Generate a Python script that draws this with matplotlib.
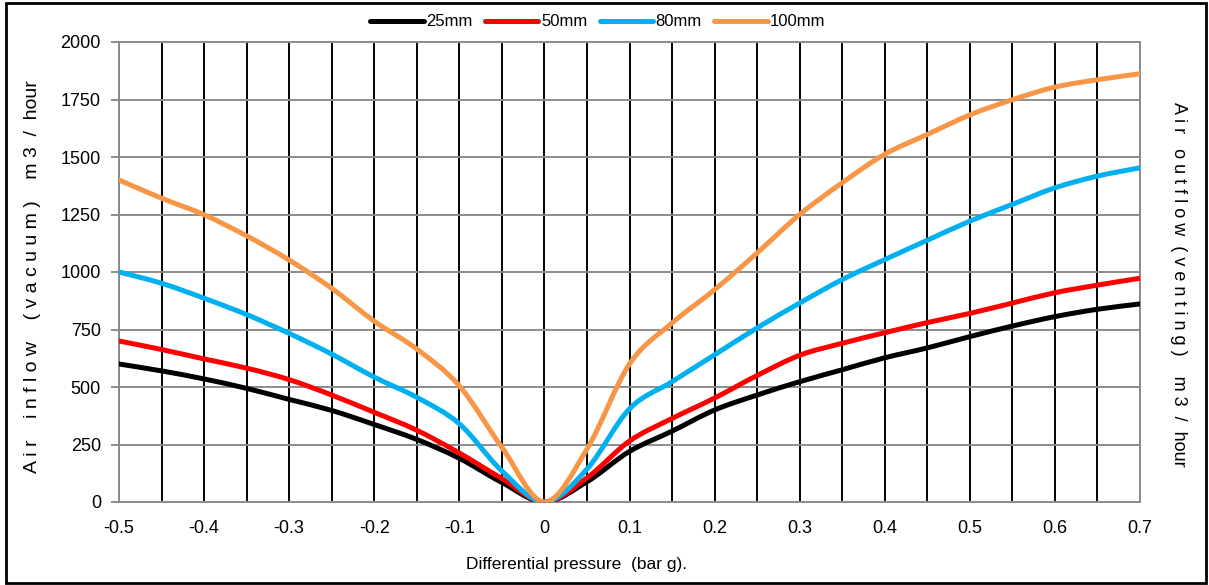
import numpy as np
import matplotlib
matplotlib.use('Agg')
import matplotlib.pyplot as plt
from matplotlib.path import Path
from matplotlib.patches import PathPatch, Rectangle
from matplotlib.lines import Line2D

plt.rcParams['font.family'] = ['Liberation Sans', 'DejaVu Sans']

# differential pressure (bar g), one point every 0.05
pressure = [-0.5, -0.45, -0.4, -0.35, -0.3, -0.25, -0.2, -0.15, -0.1, -0.05, 0.0,
            0.05, 0.1, 0.15, 0.2, 0.25, 0.3, 0.35, 0.4, 0.45, 0.5, 0.55, 0.6, 0.65, 0.7]

flow_25 = [600, 570, 535, 494, 446, 398, 337, 272, 190, 85, 0,
           88, 220, 308, 400, 465, 523, 575, 627, 670, 719, 765, 806, 838, 861]
flow_50 = [700, 663, 622, 582, 532, 465, 390, 312, 213, 102, 0,
           105, 265, 363, 452, 550, 638, 690, 736, 780, 820, 865, 910, 943, 973]
flow_80 = [1000, 951, 886, 815, 733, 643, 543, 455, 340, 135, 0,
           143, 405, 523, 640, 757, 865, 967, 1054, 1138, 1221, 1294, 1366, 1417, 1453]
flow_100 = [1400, 1321, 1249, 1157, 1052, 929, 786, 665, 505, 238, 0,
            230, 600, 778, 923, 1083, 1250, 1388, 1512, 1598, 1683, 1749, 1804, 1836, 1862]

series_names = ['25mm', '50mm', '80mm', '100mm']
series_colors = ['#000000', '#ff0000', '#00b0f0', '#f79646']

x_ticks = [-0.5, -0.4, -0.3, -0.2, -0.1, 0, 0.1, 0.2, 0.3, 0.4, 0.5, 0.6, 0.7]
x_labels = ['-0.5', '-0.4', '-0.3', '-0.2', '-0.1', '0', '0.1', '0.2', '0.3', '0.4', '0.5', '0.6', '0.7']
y_ticks = [0, 250, 500, 750, 1000, 1250, 1500, 1750, 2000]


def smooth_path(xs, ys):
    # excel style smoothed line: catmull-rom -> cubic bezier
    pts = np.column_stack([xs, ys]).astype(float)
    n = len(pts)
    verts = [pts[0]]
    codes = [Path.MOVETO]
    for i in range(n - 1):
        p0 = pts[max(i - 1, 0)]
        p1 = pts[i]
        p2 = pts[i + 1]
        p3 = pts[min(i + 2, n - 1)]
        verts += [p1 + (p2 - p0) / 6, p2 - (p3 - p1) / 6, p2]
        codes += [Path.CURVE4] * 3
    return Path(verts, codes)


fig = plt.figure(figsize=(12.09, 5.85), dpi=100)
ax = fig.add_axes([119 / 1209, 1 - 502 / 585, (1140 - 119) / 1209, (502 - 42) / 585])

ax.set_xlim(-0.5, 0.7)
ax.set_ylim(0, 2000)
ax.set_xticks(x_ticks)
ax.set_xticklabels(x_labels)
ax.set_xticks(np.arange(-0.5, 0.701, 0.05), minor=True)
ax.set_yticks(y_ticks)

ax.grid(True, which='both', axis='x', color='black', lw=1.4)
ax.grid(True, which='major', axis='y', color='#8c8c8c', lw=1.4)
ax.set_axisbelow(True)
for s in ax.spines.values():
    s.set_color('#8c8c8c')
    s.set_linewidth(1.4)

ax.tick_params(axis='x', which='both', length=0, pad=13, labelsize=13)
ax.tick_params(axis='y', length=6, width=1.4, color='#8c8c8c', pad=7, labelsize=13)

for ys, c in zip([flow_25, flow_50, flow_80, flow_100], series_colors):
    ax.add_patch(PathPatch(smooth_path(pressure, ys), fill=False, edgecolor=c,
                           lw=3.6, capstyle='round', joinstyle='round', zorder=3))

handles = [Line2D([], [], color=c, lw=3.6, solid_capstyle='round') for c in series_colors]
fig.legend(handles, series_names, loc='center', bbox_to_anchor=(598 / 1209, 1 - 22 / 585),
           ncol=4, frameon=False, fontsize=12, handlelength=3.2, handletextpad=0.15,
           columnspacing=0.75, borderpad=0)

fig.text(577 / 1209, 1 - 565 / 585, 'Differential pressure  (bar g).', fontsize=12.5,
         ha='center', va='center')
fig.text(33 / 1209, 1 - 277 / 585, 'A i r    i n f l o w    ( v a c u u m )    m 3  /  hour',
         rotation=90, ha='center', va='center', fontsize=14)
fig.text(1178 / 1209, 1 - 284 / 585, 'A i r   o u t f l o w  ( v e n t i n g )    m 3  /  hour',
         rotation=-90, ha='center', va='center', fontsize=13)

fig.patches.append(Rectangle((6 / 1209, 2 / 585), 1200 / 1209, 580 / 585, transform=fig.transFigure,
                             fill=False, edgecolor='black', lw=2))

fig.savefig('out.png', dpi=100)
